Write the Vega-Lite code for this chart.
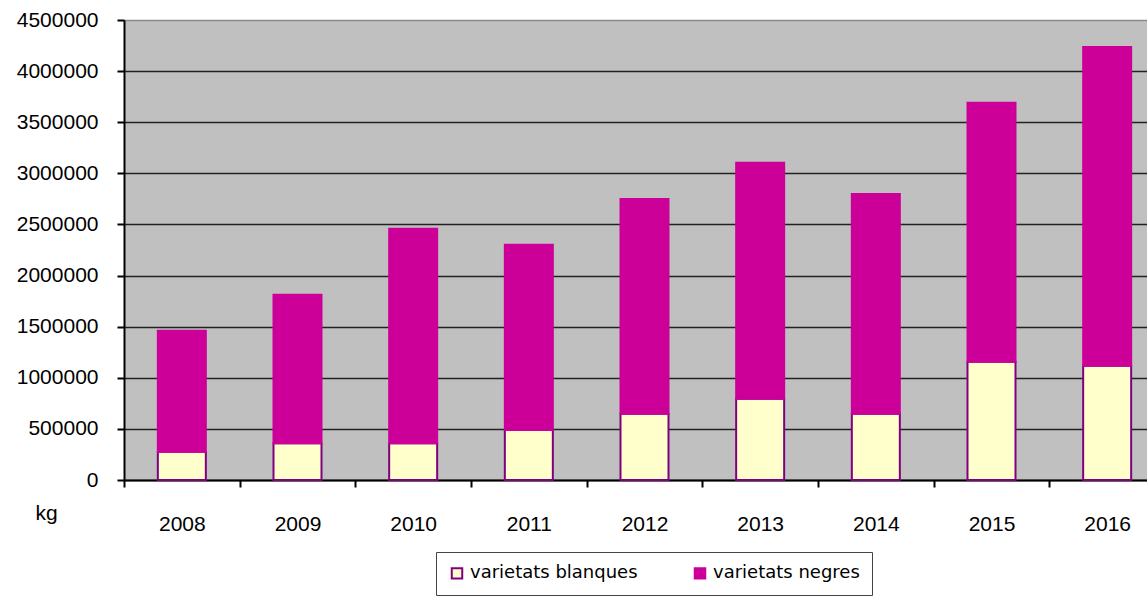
{
  "$schema": "https://vega.github.io/schema/vega-lite/v6.json",
  "width": 1023,
  "height": 460,
  "autosize": {"type": "none"},
  "padding": {"left": 124, "top": 20, "right": 0, "bottom": 120},
  "background": "white",
  "data": {
    "values": [
      {"year": "2008", "tipus": "varietats blanques", "kg": 277000},
      {"year": "2008", "tipus": "varietats negres", "kg": 1183000},
      {"year": "2009", "tipus": "varietats blanques", "kg": 360000},
      {"year": "2009", "tipus": "varietats negres", "kg": 1452000},
      {"year": "2010", "tipus": "varietats blanques", "kg": 360000},
      {"year": "2010", "tipus": "varietats negres", "kg": 2099000},
      {"year": "2011", "tipus": "varietats blanques", "kg": 490000},
      {"year": "2011", "tipus": "varietats negres", "kg": 1812000},
      {"year": "2012", "tipus": "varietats blanques", "kg": 647000},
      {"year": "2012", "tipus": "varietats negres", "kg": 2103000},
      {"year": "2013", "tipus": "varietats blanques", "kg": 794000},
      {"year": "2013", "tipus": "varietats negres", "kg": 2309000},
      {"year": "2014", "tipus": "varietats blanques", "kg": 647000},
      {"year": "2014", "tipus": "varietats negres", "kg": 2152000},
      {"year": "2015", "tipus": "varietats blanques", "kg": 1156000},
      {"year": "2015", "tipus": "varietats negres", "kg": 2535000},
      {"year": "2016", "tipus": "varietats blanques", "kg": 1117000},
      {"year": "2016", "tipus": "varietats negres", "kg": 3119000}
    ]
  },
  "mark": {"type": "bar", "strokeWidth": 2, "width": {"band": 0.415}},
  "encoding": {
    "x": {
      "field": "year",
      "type": "ordinal",
      "scale": {"range": [0, 1041], "paddingInner": 0, "paddingOuter": 0},
      "axis": {
        "title": null,
        "labelAngle": 0,
        "tickBand": "extent",
        "domainColor": "black",
        "domainWidth": 2,
        "tickColor": "black",
        "tickWidth": 2,
        "tickSize": 7,
        "labelFont": "Liberation Sans",
        "labelFontSize": 21,
        "labelColor": "black",
        "labelPadding": 26,
        "labelBaseline": "top",
        "grid": false
      }
    },
    "y": {
      "field": "kg",
      "type": "quantitative",
      "stack": "zero",
      "scale": {"domain": [0, 4500000], "nice": false},
      "axis": {
        "values": [0, 500000, 1000000, 1500000, 2000000, 2500000, 3000000, 3500000, 4000000, 4500000],
        "format": "d",
        "title": "kg",
        "titleAngle": 0,
        "titleX": -78,
        "titleY": 493,
        "titleAlign": "center",
        "titleBaseline": "middle",
        "titleFont": "Liberation Sans",
        "titleFontSize": 21,
        "titleFontWeight": "normal",
        "titleColor": "black",
        "grid": true,
        "gridColor": {"condition": {"test": "datum.value == 4500000", "value": "#8a8a8a"}, "value": "#222222"},
        "gridWidth": 1.5,
        "domainColor": "black",
        "domainWidth": 2,
        "tickColor": "black",
        "tickWidth": 2,
        "tickSize": 7,
        "labelPadding": 19,
        "labelFlush": false,
        "labelOverlap": false,
        "labelFont": "Liberation Sans",
        "labelFontSize": 21,
        "labelColor": "black"
      }
    },
    "order": {"field": "tipus", "sort": "ascending"},
    "fill": {
      "field": "tipus",
      "type": "nominal",
      "scale": {"domain": ["varietats blanques", "varietats negres"], "range": ["#FFFFCC", "#CC0099"]},
      "legend": {
        "orient": "none",
        "legendX": 312,
        "legendY": 532,
        "direction": "horizontal",
        "title": null,
        "strokeColor": "#444444",
        "fillColor": "white",
        "padding": 12,
        "symbolType": "square",
        "symbolSize": 110,
        "symbolStrokeWidth": 2,
        "labelFont": "DejaVu Sans",
        "labelFontSize": 18,
        "labelLimit": 400,
        "labelColor": "black",
        "labelOffset": 4,
        "columnPadding": 52
      }
    },
    "stroke": {
      "field": "tipus",
      "type": "nominal",
      "scale": {"domain": ["varietats blanques", "varietats negres"], "range": ["#800080", "#CC0099"]}
    }
  },
  "config": {
    "view": {"fill": "#C0C0C0", "stroke": null}
  }
}
